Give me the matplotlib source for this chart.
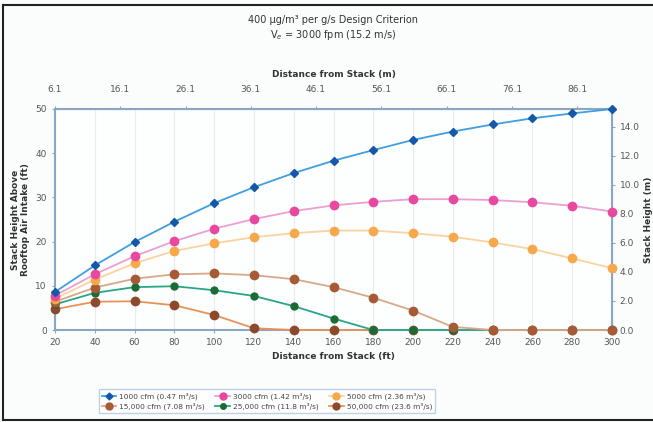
import matplotlib
matplotlib.use("Agg")
import matplotlib.pyplot as plt
from matplotlib.lines import Line2D
import numpy as np

distance_ft = [20, 40, 60, 80, 100, 120, 140, 160, 180, 200, 220, 240, 260, 280, 300]

cfm_1000 = [8.6, 14.6, 19.9, 24.5, 28.7, 32.3, 35.5, 38.3, 40.7, 43.0, 44.9, 46.5, 47.9, 49.0, 50.0]
cfm_3000 = [7.8, 12.6, 16.7, 20.1, 22.9, 25.1, 26.9, 28.2, 29.0, 29.6, 29.6, 29.4, 28.9, 28.1, 26.8]
cfm_5000 = [7.1, 11.4, 15.1, 17.9, 19.6, 21.0, 21.9, 22.5, 22.5, 21.9, 21.1, 19.8, 18.3, 16.2, 14.0]
cfm_15000 = [6.4, 9.6, 11.6, 12.6, 12.8, 12.4, 11.5, 9.7, 7.3, 4.4, 0.7, 0.0, 0.0, 0.0, 0.0]
cfm_25000 = [5.8, 8.4, 9.7, 9.9, 9.0, 7.7, 5.4, 2.6, 0.0, 0.0, 0.0, 0.0, 0.0, 0.0, 0.0]
cfm_50000 = [4.7, 6.4, 6.5, 5.6, 3.4, 0.4, 0.0, 0.0, 0.0, 0.0, 0.0, 0.0, 0.0, 0.0, 0.0]

labels = ["1000 cfm (0.47 m\u00b3/s)", "3000 cfm (1.42 m\u00b3/s)", "5000 cfm (2.36 m\u00b3/s)",
          "15,000 cfm (7.08 m\u00b3/s)", "25,000 cfm (11.8 m\u00b3/s)", "50,000 cfm (23.6 m\u00b3/s)"]
series = [cfm_1000, cfm_3000, cfm_5000, cfm_15000, cfm_25000, cfm_50000]
line_colors = ["#3f9fe0", "#eaa0d0", "#f9d3a0", "#d8a888", "#2aa58a", "#e8925a"]
marker_colors = ["#1557a8", "#e8489e", "#f7a84a", "#a65a35", "#1b6b35", "#8b4a2b"]
markers = ["D", "o", "o", "o", "o", "o"]
msizes = [4.5, 6, 6, 6, 5, 6]

top_ticks_m = [6.1, 16.1, 26.1, 36.1, 46.1, 56.1, 66.1, 76.1, 86.1]
right_ticks_m = [0, 2, 4, 6, 8, 10, 12, 14]

plt.rcParams['font.family'] = ['DejaVu Sans']
fig = plt.figure(figsize=(6.53, 4.22), dpi=100)
fig.patch.set_facecolor("#fbfdfc")
ax = fig.add_axes([55/653, 1-330/422, (612-55)/653, (330-109)/422])
ax.set_facecolor("#fdfefe")

order = [5, 4, 3, 2, 1, 0]
for i in order:
    ax.plot(distance_ft, series[i], color=line_colors[i], lw=1.3,
            marker=markers[i], ms=msizes[i], mfc=marker_colors[i],
            mec=marker_colors[i], clip_on=False, zorder=3 + (5 - i))

ax.set_xlim(20, 300)
ax.set_ylim(0, 50)
ax.set_xticks(distance_ft)
ax.set_yticks([0, 10, 20, 30, 40, 50])
ax.xaxis.grid(True, color="#e6eef4", lw=0.8)
ax.set_axisbelow(True)
spine_c = "#8aa6c2"
for s in ax.spines.values():
    s.set_color(spine_c)
    s.set_linewidth(1.5)
ax.tick_params(axis='both', labelsize=6.5, colors="#555555", length=2.5, width=0.8)
ax.tick_params(axis='both', color=spine_c)
ax.set_xlabel("Distance from Stack (ft)", fontsize=6.5, fontweight='bold', labelpad=3, color="#333333")
ax.set_ylabel("Stack Height Above\nRooftop Air Intake (ft)", fontsize=6.5, fontweight='bold',
              labelpad=4, color="#333333", linespacing=1.1)

top = ax.secondary_xaxis('top', functions=(lambda x: x * 0.3048, lambda m: m / 0.3048))
top.set_xticks([t - 0.004 for t in top_ticks_m])
top.set_xticklabels([f"{t:.1f}" for t in top_ticks_m])
top.tick_params(labelsize=6.5, colors="#555555", length=2.5, color=spine_c, pad=8)
top.set_xlabel("Distance from Stack (m)", fontsize=6.5, fontweight='bold', labelpad=6, color="#333333")
top.spines['top'].set_color(spine_c)

right = ax.secondary_yaxis('right', functions=(lambda y: y * 0.3048, lambda m: m / 0.3048))
right.set_yticks(right_ticks_m)
right.set_yticklabels([f"{t:.1f}" for t in right_ticks_m])
right.tick_params(labelsize=6.5, colors="#555555", length=2.5, color=spine_c, pad=3)
right.set_ylabel("Stack Height (m)", fontsize=6.5, fontweight='bold', labelpad=3, color="#333333")
right.spines['right'].set_color(spine_c)

fig.text(333/653, 1-20/422, "400 \u03bcg/m\u00b3 per g/s Design Criterion", ha='center', va='center',
         fontsize=7, color="#333333")
fig.text(333/653, 1-35/422, "V$_e$ = 3000 fpm (15.2 m/s)", ha='center', va='center',
         fontsize=7, color="#333333")

leg_order = [0, 3, 1, 4, 2, 5]
leg_handles = [Line2D([0], [0], color=line_colors[i], lw=1.3, marker=markers[i], ms=msizes[i] - 1,
                      mfc=marker_colors[i], mec=marker_colors[i]) for i in leg_order]
leg = fig.legend(leg_handles, [labels[i] for i in leg_order], ncol=3, loc='center',
                 bbox_to_anchor=(267/653, 1-401/422),
                 fontsize=5.3, frameon=True, fancybox=False, edgecolor="#b0c8e0",
                 handlelength=2.0, columnspacing=1.4, borderpad=0.4, labelspacing=0.35,
                 handletextpad=0.4)
leg.get_frame().set_linewidth(1.0)
for t in leg.get_texts():
    t.set_color("#444444")

# figure border
fig.add_artist(Line2D([3/653, 3/653], [1-420/422, 1-4.5/422], transform=fig.transFigure, color="#222222", lw=1.5))
fig.add_artist(Line2D([3/653, 1], [1-4.5/422, 1-4.5/422], transform=fig.transFigure, color="#222222", lw=1.5))
fig.add_artist(Line2D([3/653, 1], [1-420/422, 1-420/422], transform=fig.transFigure, color="#222222", lw=1.5))

fig.savefig("out.png", dpi=100, facecolor=fig.get_facecolor())
